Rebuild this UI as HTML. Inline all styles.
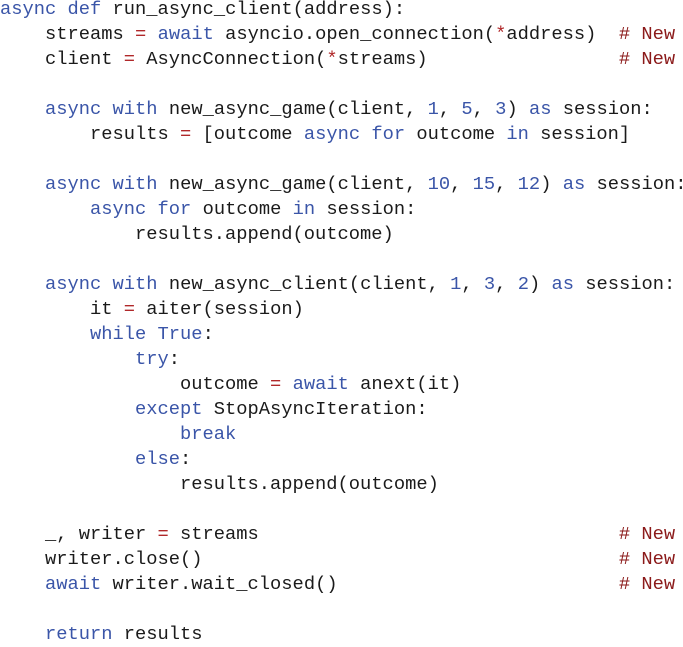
<!DOCTYPE html>
<html><head><meta charset="utf-8"><style>
html,body{margin:0;padding:0;background:#fff;width:683px;height:640px;overflow:hidden}
pre{margin:0;position:absolute;left:0;top:-3px;font-family:"Liberation Mono",monospace;font-size:18.75px;line-height:25px;color:#1a1a1a;letter-spacing:0}
.k{color:#3a55a8}.o{color:#b0282a}.c{color:#8b1a1a}.n{color:#3a55a8}
</style></head><body><pre><span class="k">async</span> <span class="k">def</span> run_async_client(address):
    streams <span class="o">=</span> <span class="k">await</span> asyncio.open_connection(<span class="o">*</span>address)  <span class="c"># New</span>
    client <span class="o">=</span> AsyncConnection(<span class="o">*</span>streams)                 <span class="c"># New</span>

    <span class="k">async</span> <span class="k">with</span> new_async_game(client, <span class="n">1</span>, <span class="n">5</span>, <span class="n">3</span>) <span class="k">as</span> session:
        results <span class="o">=</span> [outcome <span class="k">async</span> <span class="k">for</span> outcome <span class="k">in</span> session]

    <span class="k">async</span> <span class="k">with</span> new_async_game(client, <span class="n">10</span>, <span class="n">15</span>, <span class="n">12</span>) <span class="k">as</span> session:
        <span class="k">async</span> <span class="k">for</span> outcome <span class="k">in</span> session:
            results.append(outcome)

    <span class="k">async</span> <span class="k">with</span> new_async_client(client, <span class="n">1</span>, <span class="n">3</span>, <span class="n">2</span>) <span class="k">as</span> session:
        it <span class="o">=</span> aiter(session)
        <span class="k">while</span> <span class="k">True</span>:
            <span class="k">try</span>:
                outcome <span class="o">=</span> <span class="k">await</span> anext(it)
            <span class="k">except</span> StopAsyncIteration:
                <span class="k">break</span>
            <span class="k">else</span>:
                results.append(outcome)

    _, writer <span class="o">=</span> streams                                <span class="c"># New</span>
    writer.close()                                     <span class="c"># New</span>
    <span class="k">await</span> writer.wait_closed()                         <span class="c"># New</span>

    <span class="k">return</span> results</pre></body></html>
